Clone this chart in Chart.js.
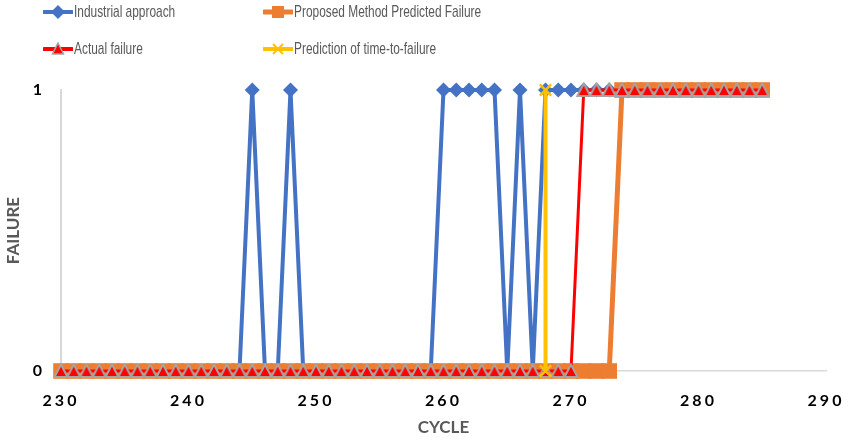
<!DOCTYPE html>
<html>
<head>
<meta charset="utf-8">
<script src="https://cdn.jsdelivr.net/npm/chart.js@4.4.1/dist/chart.umd.min.js"></script>
<style>
  html, body { margin: 0; padding: 0; background: #ffffff; }
  #wrap { position: relative; width: 850px; height: 440px; }
  #chart { position: absolute; left: 0; top: 0; }
  .leg { position: absolute; display: flex; align-items: center; font-family: "Liberation Sans", sans-serif; font-size: 17px; color: #595959; white-space: nowrap; }
  .leg svg { display: block; margin-right: 1px; }
  .leg span { display: inline-block; transform: scaleX(0.7); transform-origin: left center; }
</style>
</head>
<body>
<div id="wrap">
  <canvas id="chart" width="850" height="440"></canvas>
  <div class="leg" style="left:43px; top:2px; height:20px;">
    <svg width="30" height="20"><line x1="1" y1="10" x2="29" y2="10" stroke="#4472C4" stroke-width="4" stroke-linecap="round"/><polygon points="15,3 22,10 15,17 8,10" fill="#4472C4"/></svg>
    <span>Industrial approach</span>
  </div>
  <div class="leg" style="left:263px; top:2px; height:20px;">
    <svg width="30" height="20"><line x1="1" y1="10" x2="29" y2="10" stroke="#ED7D31" stroke-width="5" stroke-linecap="round"/><rect x="9" y="4" width="12" height="12" fill="#ED7D31"/></svg>
    <span>Proposed Method Predicted Failure</span>
  </div>
  <div class="leg" style="left:43px; top:39px; height:20px;">
    <svg width="30" height="20"><line x1="1" y1="10" x2="29" y2="10" stroke="#FF0000" stroke-width="4" stroke-linecap="round"/><polygon points="15,4 20.5,15 9.5,15" fill="#FF0000" stroke="#A5A5A5" stroke-width="1.5"/></svg>
    <span>Actual failure</span>
  </div>
  <div class="leg" style="left:263px; top:39px; height:20px;">
    <svg width="30" height="20"><line x1="1" y1="10" x2="29" y2="10" stroke="#FFC000" stroke-width="4" stroke-linecap="round"/><line x1="10" y1="5" x2="20" y2="15" stroke="#FFC000" stroke-width="2"/><line x1="20" y1="5" x2="10" y2="15" stroke="#FFC000" stroke-width="2"/></svg>
    <span>Prediction of time-to-failure</span>
  </div>
</div>
<script>
// ---- data ----
const cycles = [230,231,232,233,234,235,236,237,238,239,240,241,242,243,244,245,246,247,248,249,
                250,251,252,253,254,255,256,257,258,259,260,261,262,263,264,265,266,267,268,269,
                270,271,272,273,274,275,276,277,278,279,280,281,282,283,284,285];
const industrialApproach = [0,0,0,0,0,0,0,0,0,0,0,0,0,0,0,1,0,0,1,0,
                            0,0,0,0,0,0,0,0,0,0,1,1,1,1,1,0,1,0,1,1,
                            1,1,1,1,1,1,1,1,1,1,1,1,1,1,1,1];
const proposedMethod =     [0,0,0,0,0,0,0,0,0,0,0,0,0,0,0,0,0,0,0,0,
                            0,0,0,0,0,0,0,0,0,0,0,0,0,0,0,0,0,0,0,0,
                            0,0,0,0,1,1,1,1,1,1,1,1,1,1,1,1];
const actualFailure =      [0,0,0,0,0,0,0,0,0,0,0,0,0,0,0,0,0,0,0,0,
                            0,0,0,0,0,0,0,0,0,0,0,0,0,0,0,0,0,0,0,0,
                            0,1,1,1,1,1,1,1,1,1,1,1,1,1,1,1];
const predictionCycles = [268, 268];
const predictionValues = [0, 1];
const xTicks = [230, 240, 250, 260, 270, 280, 290];
const yTicks = [0, 1];

function pts(xs, ys) { return xs.map((x, i) => ({ x: x, y: ys[i] })); }

// centered triangle marker image
function triImg() {
  const c = document.createElement('canvas');
  c.width = 16; c.height = 16;
  const g = c.getContext('2d');
  g.beginPath();
  g.moveTo(8, 1.5); g.lineTo(14.5, 14); g.lineTo(1.5, 14); g.closePath();
  g.fillStyle = '#FF0000'; g.fill();
  g.lineWidth = 2; g.strokeStyle = '#A5A5A5'; g.lineJoin = 'miter'; g.stroke();
  return c;
}

const spacingPlugin = {
  id: 'tickSpacing',
  afterDatasetsDraw(chart) { chart.ctx.letterSpacing = '3px'; },
  afterDraw(chart) { chart.ctx.letterSpacing = '0px'; }
};

new Chart(document.getElementById('chart'), {
  type: 'scatter',
  data: {
    datasets: [
      {
        label: 'Prediction of time-to-failure',
        data: pts(predictionCycles, predictionValues),
        showLine: true, borderColor: '#FFC000', borderWidth: 4,
        pointStyle: 'crossRot', pointRadius: 8, pointBorderWidth: 2.5,
        pointBorderColor: '#FFC000', pointBackgroundColor: '#FFC000',
        clip: false, order: 1
      },
      {
        label: 'Actual failure',
        data: pts(cycles, actualFailure),
        showLine: true, borderColor: '#FF0000', borderWidth: 3,
        pointStyle: triImg(), pointRadius: 7,
        clip: false, order: 2
      },
      {
        label: 'Proposed Method Predicted Failure',
        data: pts(cycles, proposedMethod),
        showLine: true, borderColor: '#ED7D31', borderWidth: 5,
        pointStyle: 'rect', pointRadius: 11, pointBorderWidth: 0,
        pointBackgroundColor: '#ED7D31', pointBorderColor: '#ED7D31',
        clip: false, order: 3
      },
      {
        label: 'Industrial approach',
        data: pts(cycles, industrialApproach),
        showLine: true, borderColor: '#4472C4', borderWidth: 4,
        pointStyle: 'rectRot', pointRadius: 7.5, pointBorderWidth: 0,
        pointBackgroundColor: '#4472C4', pointBorderColor: '#4472C4',
        clip: false, order: 4
      }
    ]
  },
  plugins: [spacingPlugin],
  options: {
    responsive: false,
    animation: false,
    layout: { padding: { left: 0, right: 24, top: 90, bottom: 0 } },
    plugins: { legend: { display: false }, tooltip: { enabled: false } },
    scales: {
      x: {
        type: 'linear', min: 230, max: 290,
        afterBuildTicks(s) { s.ticks = xTicks.map(v => ({ value: v })); },
        afterFit(s) { s.height = 69; s.paddingLeft = 0; s.paddingRight = 0; },
        grid: { display: false, drawTicks: false },
        border: { display: true, color: '#D9D9D9', width: 1.5 },
        ticks: { z: 1, padding: 20, color: '#000000', font: { family: 'Lato', size: 16, weight: 'bold' }, maxRotation: 0 },
        title: { display: true, text: 'CYCLE', color: '#595959', font: { family: 'Lato', size: 17, weight: 'bold' }, padding: { top: 0, bottom: 2 } }
      },
      y: {
        type: 'linear', min: 0, max: 1,
        afterBuildTicks(s) { s.ticks = yTicks.map(v => ({ value: v })); },
        afterFit(s) { s.width = 61; s.paddingTop = 0; s.paddingBottom = 0; },
        grid: { display: false, drawTicks: false },
        border: { display: true, color: '#D9D9D9', width: 2 },
        ticks: { z: 1, padding: 16, color: '#000000', font: { family: 'Lato', size: 16, weight: 'bold' } },
        title: { display: true, text: 'FAILURE', color: '#595959', font: { family: 'Lato', size: 17, weight: 'bold' }, padding: { top: 3, bottom: 0 } }
      }
    }
  }
});
</script>
</body>
</html>
